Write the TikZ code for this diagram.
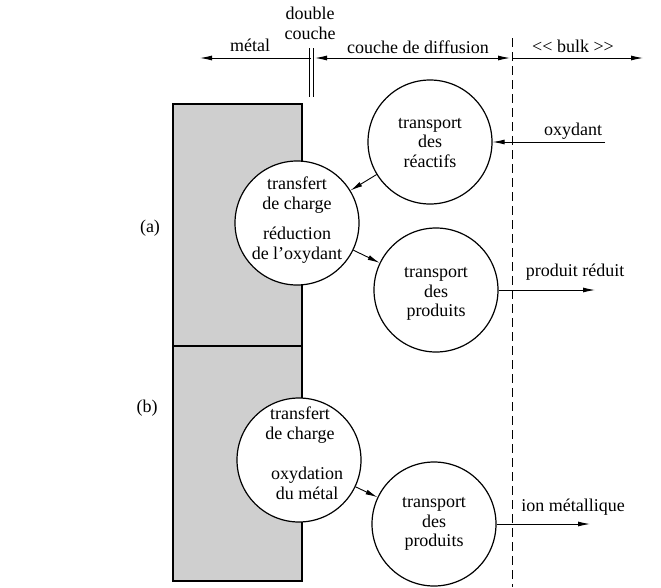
\documentclass[tikz,border=0pt]{standalone}
\usepackage{fontspec}
\setmainfont{Liberation Serif}
\usetikzlibrary{arrows.meta}
\begin{document}
\begin{tikzpicture}[x=1pt,y=-1pt,
  every node/.style={font=\fontsize{18}{19.8}\selectfont},
  proc/.style={circle,draw,line width=1.2pt,fill=white,minimum size=124pt,inner sep=0pt},
  txt/.style={align=center,inner sep=0pt},
  arr/.style={line width=0.9pt,-{Latex[length=12pt,width=5pt]}},
  metal/.style={draw,line width=1.1pt,fill=black!19}]
\useasboundingbox (0,0) rectangle (661,587);
% metal blocks
\draw[metal] (173,104) rectangle (302,346);
\draw[metal] (173,346) rectangle (302,581);
% top axis
\coordinate (dl) at (311,58);
\coordinate (lt) at (200,58);
\coordinate (dfl) at (315,58);
\coordinate (dfr) at (510,58);
\coordinate (bl) at (512,58);
\coordinate (rt) at (643,58);
\draw[arr] (dl) -- (lt);
\draw[line width=0.9pt,{Latex[length=12pt,width=5pt]}-{Latex[length=12pt,width=5pt]}] (dfl) -- (dfr);
\draw[arr] (bl) -- (rt);
\coordinate (d1) at (309,48); \coordinate (d1b) at (309,97);
\coordinate (d2) at (313.5,48); \coordinate (d2b) at (313.5,97);
\draw[line width=0.9pt] (d1) -- (d1b);
\draw[line width=0.9pt] (d2) -- (d2b);
\coordinate (dt) at (512,38); \coordinate (db) at (512,587);
\draw[line width=1pt,dash pattern=on 9pt off 5pt] (dt) -- (db);
% top labels
\node[txt] (lmetal) at (250,45) {métal};
\node[txt] (ldouble) at (310,23) {double\\couche};
\node[txt] (ldiff) at (418,47) {couche de diffusion};
\node[txt] (lbulk) at (573,46) {\mbox{<}\mbox{<} bulk \mbox{>}\mbox{>}};
% circles
\node[proc] (react) at (430,142) {};
\node[txt] (treact) at (430,143) {transport\\des\\réactifs};
\node[proc] (ta) at (297,223) {};
\node[txt] (tta) at (297,220) {transfert\\de charge\\[11pt]réduction\\de l’oxydant};
\node[proc] (pa) at (436,290) {};
\node[txt] (tpa) at (436,294) {transport\\des\\produits};
\node[proc] (tb) at (299,460) {};
\node[txt] (ttb1) at (300,425) {transfert\\de charge};
\node[txt] (ttb2) at (307,483) {oxydation\\du métal};
\node[proc] (pb) at (434,524) {};
\node[txt] (tpb) at (434,524) {transport\\des\\produits};
% labels
\node[txt] (lab) at (150,228) {(a)};
\node[txt] (lbb) at (147,408) {(b)};
% connectors
\draw[arr] (react) -- (ta);
\draw[arr] (ta) -- (pa);
\draw[arr] (tb) -- (pb);
\coordinate (ox) at (605,142);
\draw[arr] (ox) -- (react.east);
\node[txt] (lox) at (573,131) {oxydant};
\coordinate (pr) at (595,290);
\draw[arr] (pa.east) -- (pr);
\node[txt] (lpr) at (575,272) {produit réduit};
\coordinate (im) at (590,524);
\draw[arr] (pb.east) -- (im);
\node[txt] (lim) at (573,507) {ion métallique};
\end{tikzpicture}
\end{document}
